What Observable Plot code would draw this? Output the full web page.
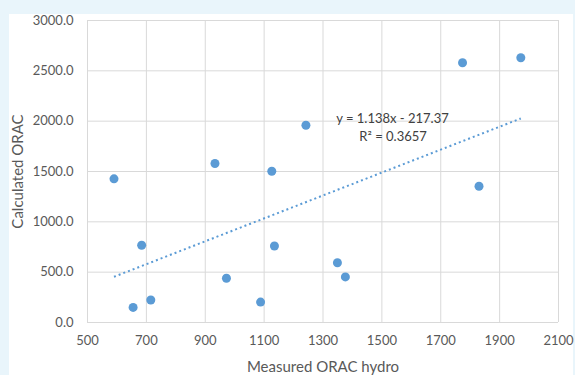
<!DOCTYPE html>
<html>
<head>
<meta charset="utf-8">
<script src="https://cdn.jsdelivr.net/npm/d3@7"></script>
<script src="https://cdn.jsdelivr.net/npm/@observablehq/plot@0.6"></script>
<style>
  html, body { margin: 0; padding: 0; background: #e9f5fb; }
  #wrap { position: relative; width: 575px; height: 375px; overflow: hidden; }
  #panel { position: absolute; left: 9px; top: 14px; width: 564px; height: 361px; background: #ffffff; }
  #chart { position: absolute; left: 0; top: 0; }
  #chart svg { background: transparent; }
</style>
</head>
<body>
<div id="wrap"><div id="panel"></div><div id="chart"></div></div>
<script>
const measured = [590, 655, 684, 715, 933, 972, 1088, 1126, 1135, 1242, 1349, 1376, 1774, 1830, 1972];
const calculated = [1427, 150, 767, 223, 1580, 440, 203, 1503, 760, 1960, 593, 453, 2580, 1353, 2630];
const xTicks = [500, 700, 900, 1100, 1300, 1500, 1700, 1900, 2100];
const yTicks = [0, 500, 1000, 1500, 2000, 2500, 3000];
const slope = 1.138, intercept = -217.37;
const eqLabel = "y = 1.138x - 217.37";
const r2Label = "R² = 0.3657";
const xTitle = "Measured ORAC hydro";
const yTitle = "Calculated ORAC";

const points = measured.map((m, i) => ({x: m, y: calculated[i]}));
const xMin = d3.min(measured), xMax = d3.max(measured);
const trend = [xMin, xMax].map(x => ({x, y: slope * x + intercept}));

const font = "Lato, 'Open Sans', sans-serif";
const chart = Plot.plot({
  width: 575,
  height: 375,
  marginLeft: 87,
  marginRight: 17,
  marginTop: 20,
  marginBottom: 53,
  style: {fontFamily: font, fontSize: "13px", color: "#595959", background: "transparent"},
  x: {domain: [500, 2100]},
  y: {domain: [0, 3000]},
  marks: [
    Plot.gridX(xTicks, {stroke: "#d9d9d9", strokeOpacity: 1, strokeWidth: 1}),
    Plot.gridY(yTicks, {stroke: "#d9d9d9", strokeOpacity: 1, strokeWidth: 1}),
    Plot.axisX({ticks: xTicks, tickSize: 0, tickPadding: 13, tickFormat: d3.format("d"), label: null, fill: "#595959", fontSize: 13}),
    Plot.axisY({ticks: yTicks, tickSize: 0, tickPadding: 14, tickFormat: d3.format(".1f"), label: null, fill: "#595959", fontSize: 13}),
    Plot.line(trend, {x: "x", y: "y", stroke: "#5b9bd5", strokeWidth: 2, strokeDasharray: "2,3", strokeLinecap: "butt"}),
    Plot.dot(points, {x: "x", y: "y", r: 4.5, fill: "#5b9bd5", stroke: "none"}),
    Plot.text([eqLabel], {x: 1536, y: 2026, text: d => d, fill: "#404040", fontSize: 13}),
    Plot.text([r2Label], {x: 1538, y: 1847, text: d => d, fill: "#404040", fontSize: 13}),
    Plot.text([xTitle], {frameAnchor: "bottom", dy: 45, textAnchor: "middle", lineAnchor: "middle", text: d => d, fill: "#595959", fontSize: 15}),
    Plot.text([yTitle], {frameAnchor: "left", dx: -69, rotate: -90, textAnchor: "middle", lineAnchor: "middle", text: d => d, fill: "#595959", fontSize: 15})
  ]
});
document.getElementById("chart").appendChild(chart);
</script>
</body>
</html>
